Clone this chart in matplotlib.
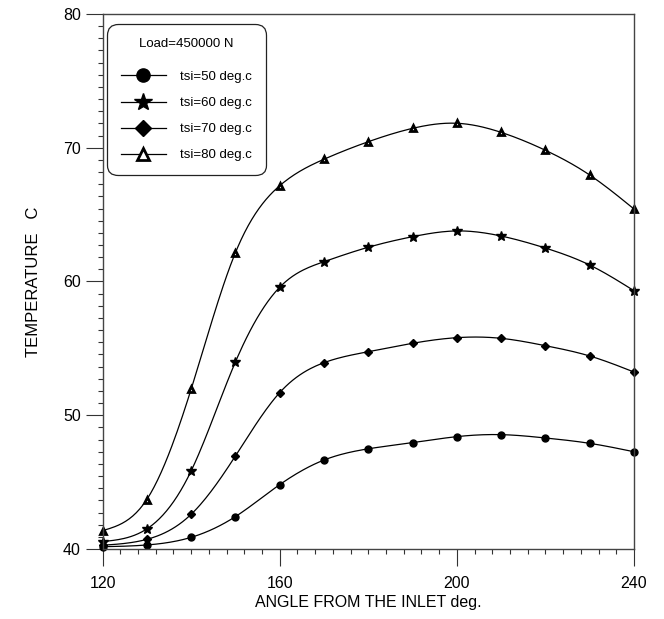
import matplotlib.pyplot as plt
import numpy as np
from matplotlib.ticker import MultipleLocator

plt.rcParams['font.family'] = ['Liberation Sans', 'DejaVu Sans']

angle = [120, 130, 140, 150, 160, 170, 180, 190, 200, 210, 220, 230, 240]
t50 = [40.17, 40.30, 40.87, 42.42, 44.81, 46.65, 47.49, 47.95, 48.40, 48.55, 48.30, 47.90, 47.27]
t60 = [40.55, 41.50, 45.83, 53.98, 59.57, 61.48, 62.56, 63.35, 63.78, 63.40, 62.50, 61.23, 59.31]
t70 = [40.28, 40.72, 42.59, 46.95, 51.69, 53.93, 54.75, 55.38, 55.80, 55.75, 55.20, 54.43, 53.23]
t80 = [41.37, 43.70, 51.94, 62.15, 67.16, 69.14, 70.45, 71.45, 71.83, 71.15, 69.81, 67.96, 65.42]
labels = ['tsi=50 deg.c', 'tsi=60 deg.c', 'tsi=70 deg.c', 'tsi=80 deg.c']


def spline(x, y, m=300):
    # natural cubic spline, just for drawing the smooth line
    x = np.asarray(x, float)
    y = np.asarray(y, float)
    n = len(x)
    h = np.diff(x)
    A = np.zeros((n, n))
    b = np.zeros(n)
    A[0, 0] = 1
    A[-1, -1] = 1
    for i in range(1, n - 1):
        A[i, i - 1] = h[i - 1]
        A[i, i] = 2 * (h[i - 1] + h[i])
        A[i, i + 1] = h[i]
        b[i] = 6 * ((y[i + 1] - y[i]) / h[i] - (y[i] - y[i - 1]) / h[i - 1])
    M = np.linalg.solve(A, b)
    xs = np.linspace(x[0], x[-1], m)
    k = np.clip(np.searchsorted(x, xs) - 1, 0, n - 2)
    t = xs - x[k]
    hk = h[k]
    ys = (M[k] * (x[k + 1] - xs) ** 3 / (6 * hk) + M[k + 1] * t ** 3 / (6 * hk)
          + (y[k] / hk - M[k] * hk / 6) * (x[k + 1] - xs)
          + (y[k + 1] / hk - M[k + 1] * hk / 6) * t)
    return xs, ys


fig = plt.figure(figsize=(6.64, 6.19), dpi=100)
ax = fig.add_axes([0.1544, 0.1131, 0.8004, 0.8643])

styles = [
    dict(marker='o', ms=5, mfc='k', mec='k'),
    dict(marker='*', ms=7, mfc='k', mec='k'),
    dict(marker='D', ms=4.5, mfc='k', mec='k'),
    dict(marker='^', ms=4.5, mfc='w', mec='k', mew=2),
]
for ys, lab, st in zip([t50, t60, t70, t80], labels, styles):
    sx, sy = spline(angle, ys)
    ax.plot(sx, sy, color='k', lw=0.9)
    ax.plot(angle, ys, ls='none', clip_on=False, **st)
    ax.plot([], [], color='k', lw=0.9, label=lab, **st)

ax.set_xlim(120, 240)
ax.set_ylim(40, 80)
ax.xaxis.set_major_locator(MultipleLocator(40))
ax.xaxis.set_minor_locator(MultipleLocator(4))
ax.yaxis.set_major_locator(MultipleLocator(10))
ax.yaxis.set_minor_locator(MultipleLocator(10 / 11))
ax.tick_params(which='major', direction='out', length=12.5, width=0.8, labelsize=11.5, color='#333')
ax.tick_params(axis='x', which='major', pad=7)
ax.tick_params(axis='y', which='major', pad=3)
ax.tick_params(which='minor', direction='out', length=3.6, width=0.8, color='#333')
for s in ax.spines.values():
    s.set_color('#444')
    s.set_linewidth(1.0)

ax.set_xlabel('ANGLE FROM THE INLET deg.', fontsize=11.5, labelpad=3)
ax.set_ylabel('TEMPERATURE   C', fontsize=12, labelpad=16)

leg = ax.legend(loc='upper left', bbox_to_anchor=(0.0085, 0.981), borderaxespad=0,
                title='Load=450000 N', fontsize=9.5, title_fontsize=9.5, markerscale=1.9,
                handlelength=3.4, handletextpad=1.1, labelspacing=1.05,
                borderpad=1.05, fancybox=True, framealpha=1, edgecolor='#222')
leg.get_frame().set_linewidth(0.9)
leg.get_frame().set_boxstyle('round,pad=0,rounding_size=0.8')
leg._legend_box.sep = 15

fig.savefig('out.png', dpi=100)
